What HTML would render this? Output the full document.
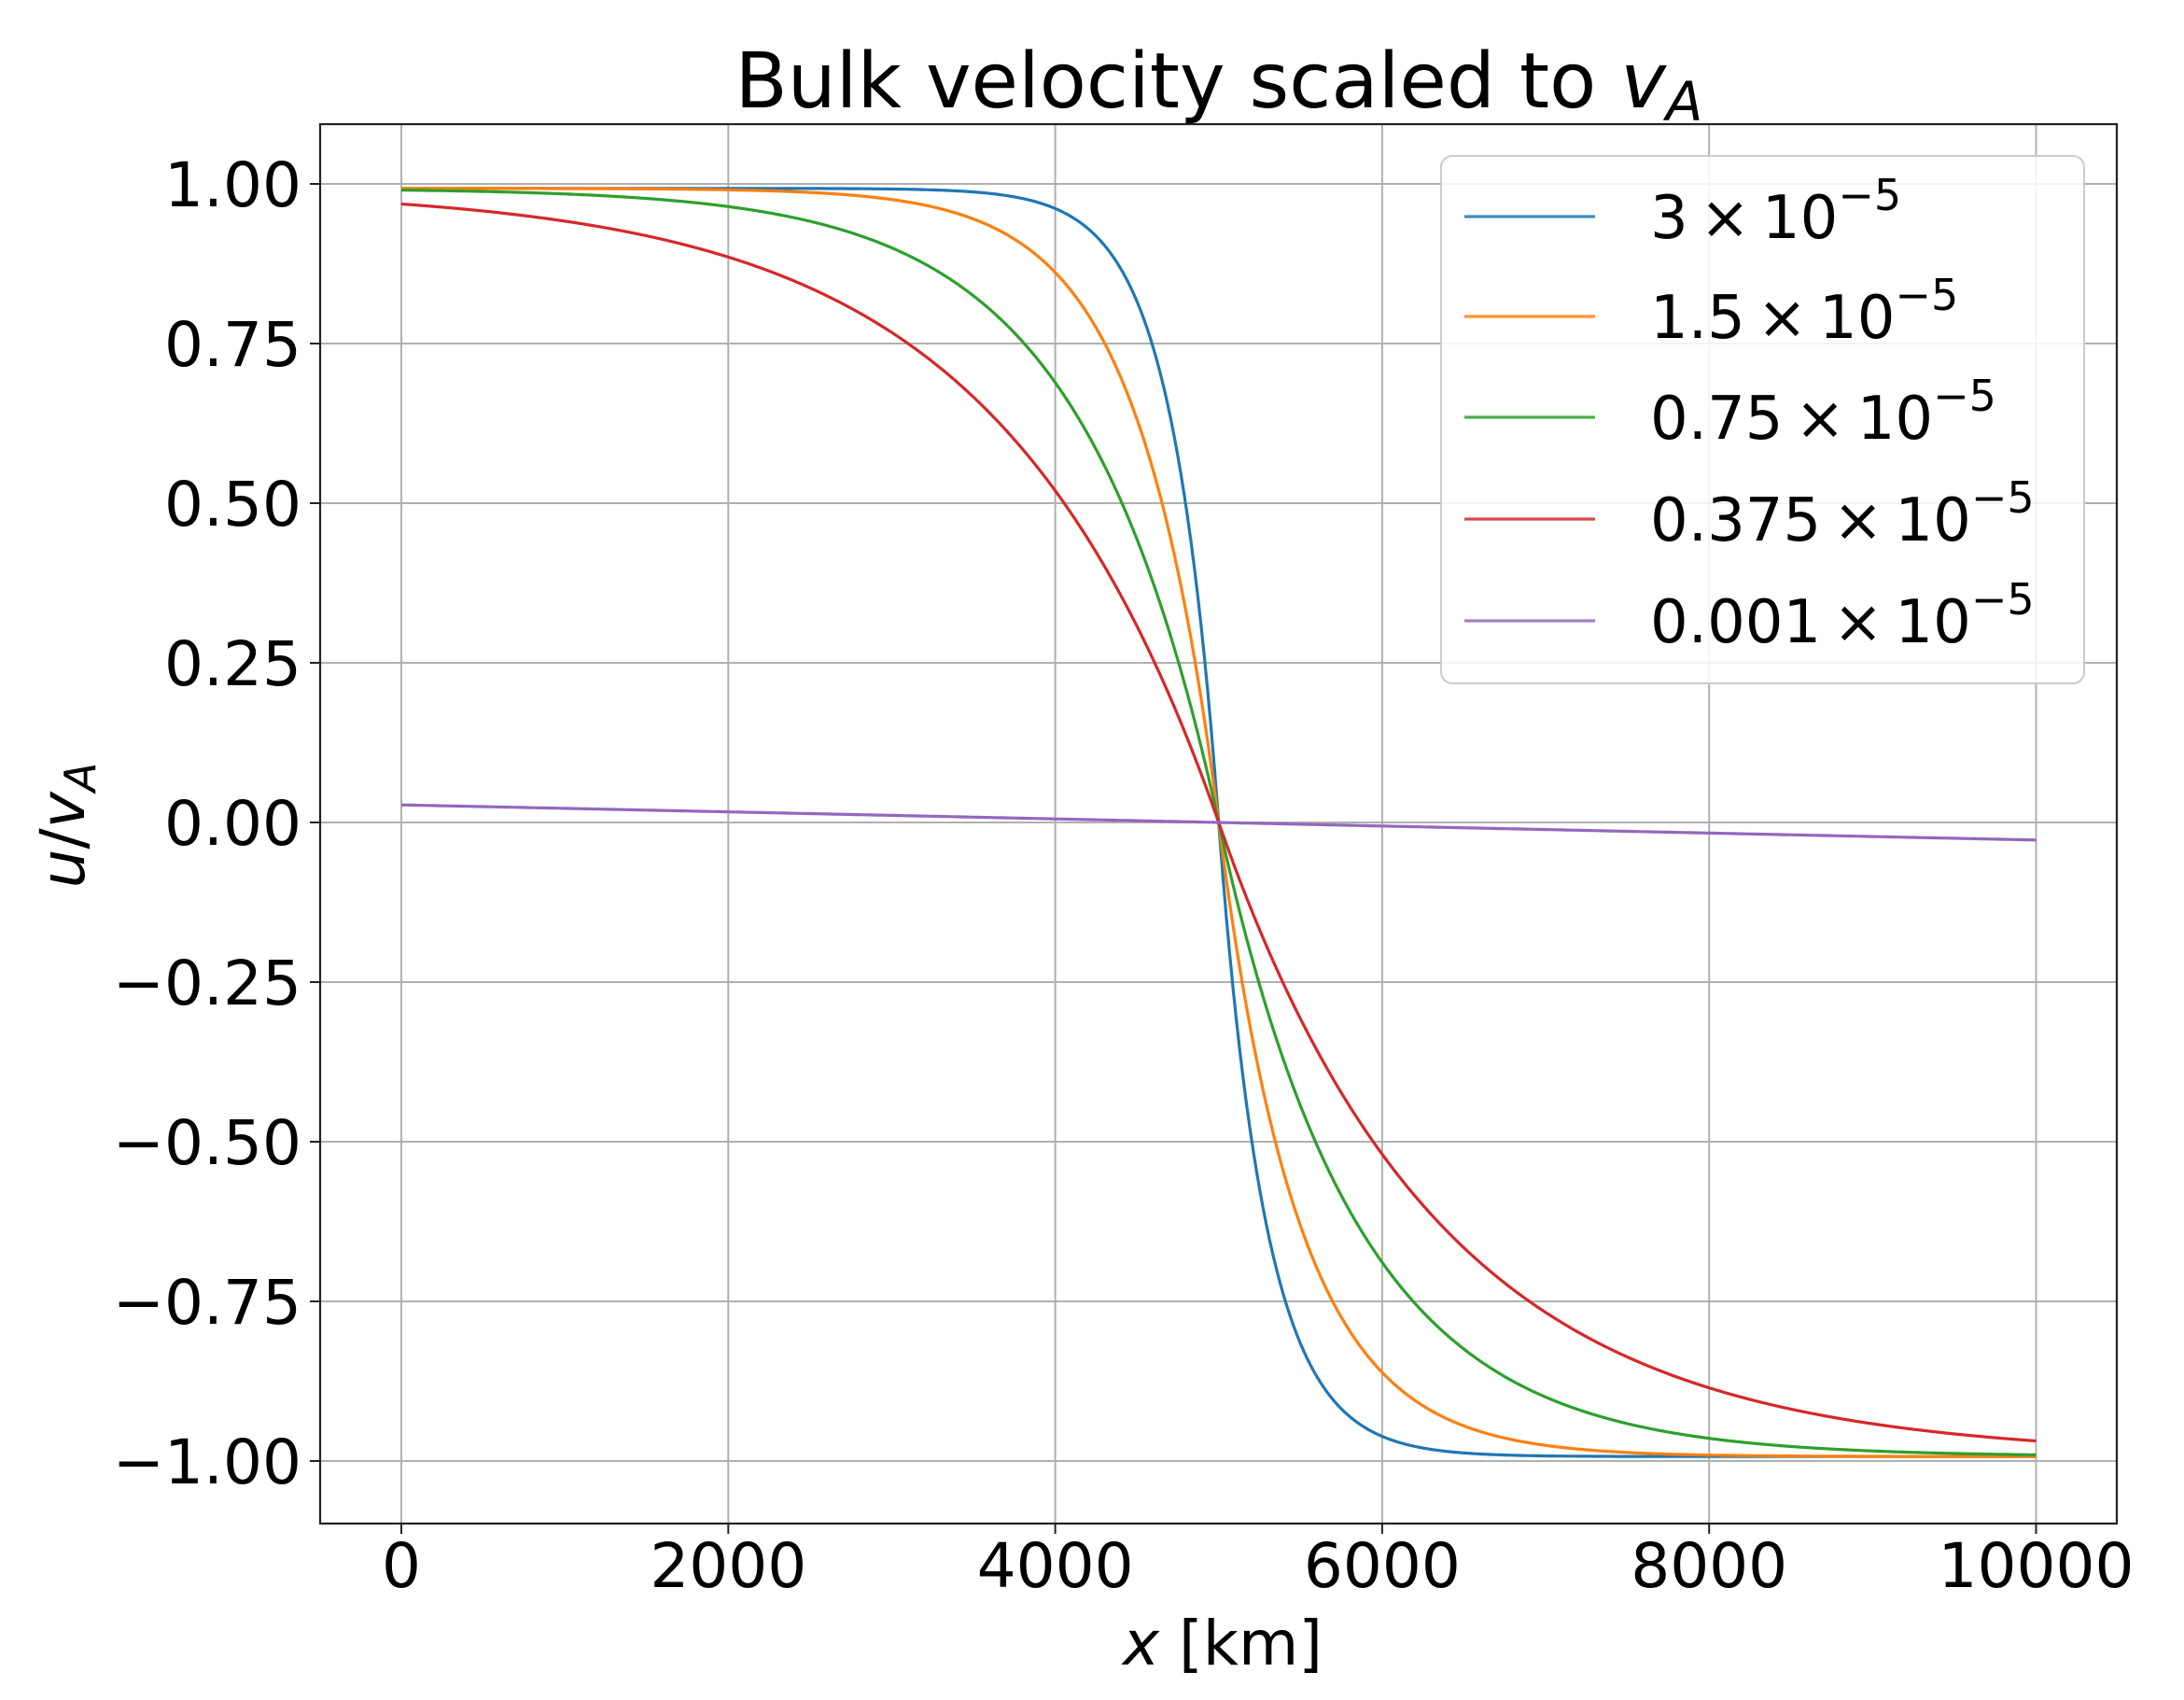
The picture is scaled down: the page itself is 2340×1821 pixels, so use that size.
<!DOCTYPE html>
<html><head><meta charset="utf-8">
<style>
html,body{margin:0;padding:0;background:#fff;}
svg{display:block;}
text{font-family:"DejaVu Sans","Liberation Sans",sans-serif;fill:#000;}
</style></head>
<body>
<svg id="s" width="2340" height="1821" viewBox="0 0 2340 1821" xmlns="http://www.w3.org/2000/svg">
<rect width="2340" height="1821" fill="#fff"/>
<g id="grid" stroke="#b0b0b0" stroke-width="2"></g>
<g id="curves" fill="none" stroke-width="3.2" stroke-linejoin="round"></g>
<rect x="343" y="133" width="1925" height="1499" fill="none" stroke="#222" stroke-width="2.2"/>
<g id="ticks" stroke="#222" stroke-width="2"></g>
<g id="labels" font-size="66"></g>
<text x="1306" y="115" font-size="82" text-anchor="middle">Bulk velocity scaled to <tspan font-style="italic">v</tspan><tspan font-style="italic" font-size="58" dy="14">A</tspan></text>
<text x="1310" y="1783" font-size="66" text-anchor="middle"><tspan font-style="italic">x</tspan> [km]</text>
<text transform="translate(90,884) rotate(-90)" font-size="66" text-anchor="middle"><tspan font-style="italic">u</tspan>/<tspan font-style="italic">v</tspan><tspan font-style="italic" font-size="46" dy="12">A</tspan></text>
<rect x="1544" y="167" width="689" height="565" rx="12" fill="#fff" fill-opacity="0.85" stroke="#cccccc" stroke-width="2"/>
<g id="legend" font-size="64"></g>
</svg>
<script>
var NS="http://www.w3.org/2000/svg";
function X(x){return 430+x*0.17515;}
function Y(u){return 881-684*u;}
function el(p,t,a,txt){var e=document.createElementNS(NS,t);for(var k in a)e.setAttribute(k,a[k]);if(txt!==undefined)e.textContent=txt;document.getElementById(p).appendChild(e);return e;}
var xt=[0,2000,4000,6000,8000,10000];
xt.forEach(function(v){var x=X(v);
 el("grid","line",{x1:x,x2:x,y1:133,y2:1632});
 el("ticks","line",{x1:x,x2:x,y1:1632,y2:1643});
 el("labels","text",{x:x,y:1700,"text-anchor":"middle"},String(v));
});
var yt=[1,0.75,0.5,0.25,0,-0.25,-0.5,-0.75,-1];
yt.forEach(function(v){var y=Y(v);
 el("grid","line",{x1:343,x2:2268,y1:y,y2:y});
 el("ticks","line",{x1:332,x2:343,y1:y,y2:y});
 var s=v.toFixed(2); if(v<0)s="\u2212"+(-v).toFixed(2);
 el("labels","text",{x:323,y:y+24,"text-anchor":"end"},s);
});
var series=[["#1f77b4",290],["#ff7f0e",495],["#2ca02c",845],["#d62728",1350],["#9467bd",178000]];
series.forEach(function(s){
 var d="";
 for(var i=0;i<=2000;i++){var x=i*5;var dd=x-5000;var u=-Math.sign(dd)*0.993*(1-Math.exp(-Math.abs(dd)/s[1]));
  d+=(i?"L":"M")+X(x).toFixed(1)+" "+Y(u).toFixed(1);}
 el("curves","path",{d:d,stroke:s[0]});
});
var labs=[["3","#1f77b4"],["1.5","#ff7f0e"],["0.75","#2ca02c"],["0.375","#d62728"],["0.001","#9467bd"]];
var rows=[232,339,447,556,665];
labs.forEach(function(l,i){var y=rows[i];
 el("legend","line",{x1:1569,x2:1709,y1:y,y2:y,stroke:l[1],"stroke-width":3.2,"stroke-opacity":0.85});
 var t=el("legend","text",{x:1768,y:y+23});
 t.textContent=l[0]+"\u2009\u00d7\u200910";
 var sp=document.createElementNS(NS,"tspan");sp.setAttribute("font-size","46");sp.setAttribute("dy","-30");sp.textContent="\u22125";t.appendChild(sp);
});
</script>
</body></html>
